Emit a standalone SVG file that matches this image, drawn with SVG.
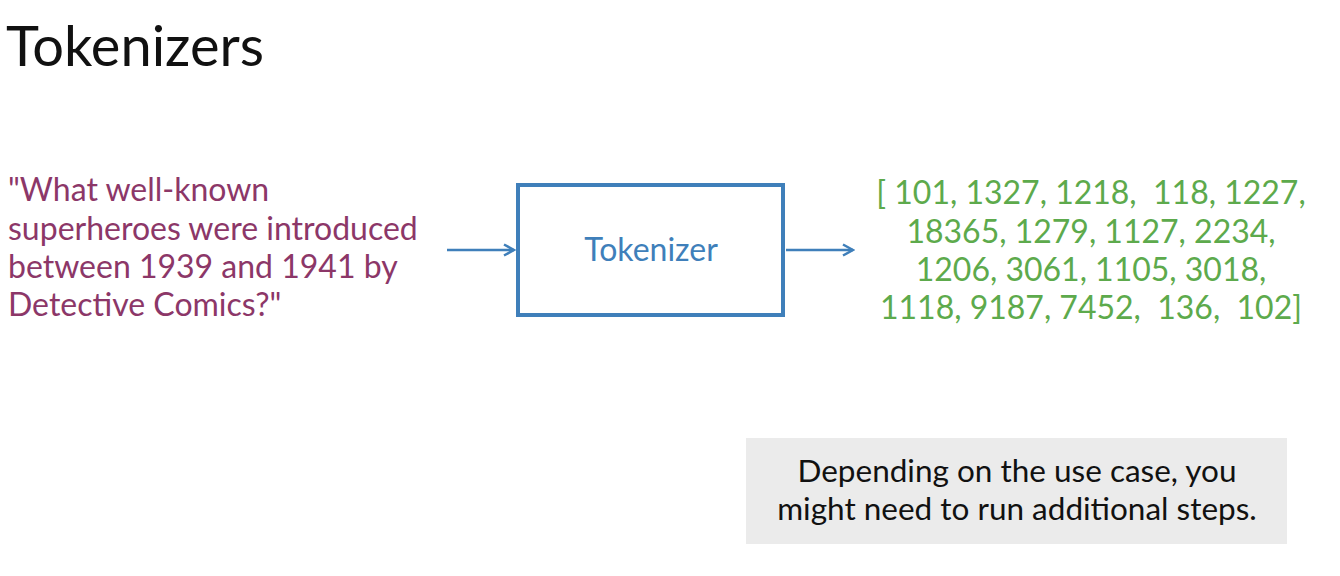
<svg xmlns="http://www.w3.org/2000/svg" width="1340" height="576" viewBox="0 0 1340 576">
<defs>
<style>
.t{font-family:Lato,"Liberation Sans",sans-serif;}
.q{fill:#8c3768;font-size:32px;}
.n{fill:#5daa4c;font-size:32px;text-anchor:middle;}
.c{stroke:#3f7fba;stroke-width:2.5;fill:none;}
</style>
<marker id="ah" viewBox="0 0 14 14" refX="12" refY="7" markerWidth="14" markerHeight="14" orient="auto" markerUnits="userSpaceOnUse">
<path d="M2,1.5 L12,7 L2,12.5" fill="none" stroke="#3f7fba" stroke-width="2.5" stroke-linejoin="miter"/>
</marker>
</defs>
<rect width="1340" height="576" fill="#ffffff"/>
<text class="t" x="6" y="66" font-size="56" fill="#111">Tokenizers</text>
<g id="question">
<text class="t q" x="8" y="201">"What well-known</text>
<text class="t q" x="8" y="240">superheroes were introduced</text>
<text class="t q" x="8" y="278">between 1939 and 1941 by</text>
<text class="t q" x="8" y="316">Detective Comics?"</text>
</g>
<g id="tokenizer">
<rect x="518" y="185" width="265" height="130" fill="none" stroke="#3f7fba" stroke-width="4"/>
<text class="t" x="651" y="261" font-size="32" fill="#3f7fba" text-anchor="middle">Tokenizer</text>
</g>
<g id="tokens">
<text class="t n" x="1091" y="204" xml:space="preserve">[ 101, 1327, 1218,  118, 1227,</text>
<text class="t n" x="1091" y="243">18365, 1279, 1127, 2234,</text>
<text class="t n" x="1091" y="281">1206, 3061, 1105, 3018,</text>
<text class="t n" x="1091" y="319" xml:space="preserve">1118, 9187, 7452,  136,  102]</text>
</g>
<g id="note">
<rect x="746" y="438" width="541" height="106" fill="#ebebeb"/>
<text class="t" x="1017" y="482" font-size="31.5" fill="#111" text-anchor="middle">Depending on the use case, you</text>
<text class="t" x="1017" y="520" font-size="31.5" fill="#111" text-anchor="middle">might need to run additional steps.</text>
</g>
<g id="connectors">
<line class="c" x1="447" y1="250" x2="514" y2="250" marker-end="url(#ah)"/>
<line class="c" x1="786" y1="250" x2="853" y2="250" marker-end="url(#ah)"/>
</g>
</svg>
